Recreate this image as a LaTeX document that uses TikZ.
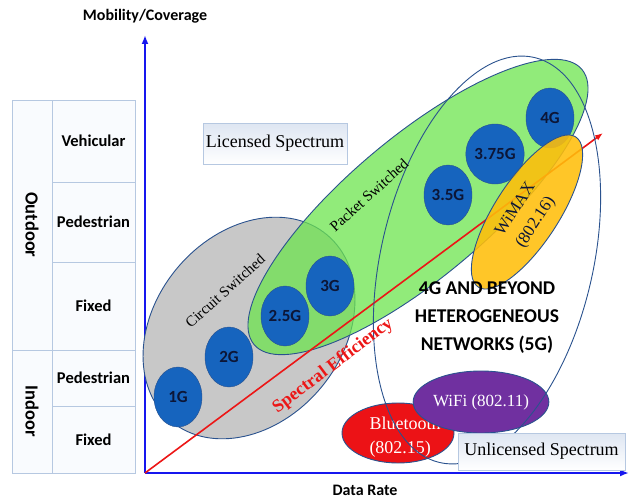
\documentclass[tikz,border=0pt]{standalone}
\usepackage{fontspec}
\setmainfont{Liberation Serif}
\setsansfont{Carlito}
\usepackage{xcolor}
\usepackage{tikz}
\usetikzlibrary{arrows.meta}
\usetikzlibrary{shapes.geometric}
\usetikzlibrary{positioning}

\definecolor{genblue}{RGB}{22,100,190}
\definecolor{gentext}{RGB}{12,22,55}
\definecolor{edgeblue}{RGB}{42,82,142}
\definecolor{csgray}{RGB}{200,200,200}
\definecolor{psgreen}{RGB}{108,228,78}
\definecolor{wmyellow}{RGB}{255,190,10}
\definecolor{btred}{RGB}{236,18,22}
\definecolor{wfpurple}{RGB}{112,48,160}
\definecolor{effred}{RGB}{236,22,22}
\definecolor{axisblue}{RGB}{22,22,238}
\definecolor{cellline}{RGB}{182,200,225}
\definecolor{cellfill}{RGB}{249,251,254}
\definecolor{bandtop}{RGB}{222,230,242}

\begin{document}
\begin{tikzpicture}[x=1pt, y=-1pt,
	cell/.style={draw=cellline, fill=cellfill, inner sep=0pt, minimum width=83pt, font=\sffamily\bfseries\fontsize{16.5}{18}\selectfont},
	gen/.style={ellipse, draw=edgeblue, fill=genblue, inner sep=0pt, minimum width=48pt, minimum height=60pt, text=gentext, font=\sffamily\bfseries\fontsize{17}{19}\selectfont},
	zone/.style={ellipse, draw=edgeblue, line width=0.9pt, inner sep=0pt},
	band/.style={draw=cellline, top color=bandtop, bottom color=white, inner sep=0pt, font=\fontsize{18}{20}\selectfont},
	axis/.style={draw=axisblue, line width=2pt, -{Latex[length=9pt, width=7pt]}},
	effarrow/.style={draw=effred, line width=1.6pt, -{Latex[length=8pt, width=6pt]}}]

	\useasboundingbox (0,0) rectangle (632,503);

	\node[cell, rotate=-90, minimum width=250pt, minimum height=40pt, font=\sffamily\bfseries\fontsize{18.5}{20}\selectfont] (outdoor) at (32,225) {Outdoor};
	\node[cell, rotate=-90, minimum width=123pt, minimum height=40pt, font=\sffamily\bfseries\fontsize{18.5}{20}\selectfont] (indoor) at (32,411.5) {Indoor};
	\foreach \y/\h/\txt [count=\iRow] in {141/82pt/Vehicular, 222/80pt/Pedestrian, 306/88pt/Fixed, 378/56pt/Pedestrian, 439.5/67pt/Fixed}
	{
		\node[cell, minimum height=\h] (row\iRow) at (93.5,\y) {\txt};
	}

	\coordinate (O) at (145,473);
	\coordinate (ytip) at (145,35);
	\coordinate (xtip) at (629,473);
	\coordinate (se) at (603,133);
	\draw[axis] (O) -- (ytip);
	\draw[axis] (O) -- (xtip);
	\node[font=\sffamily\bfseries\fontsize{16}{18}\selectfont] (mobility) at (145,16) {Mobility/Coverage};
	\node[font=\sffamily\bfseries\fontsize{16}{18}\selectfont] (rate) at (365,490) {Data Rate};

	\node[zone, fill=csgray, minimum width=243pt, minimum height=187pt, rotate=50] (circuit) at (249,328) {};
	\node[zone, fill=psgreen, fill opacity=0.75, minimum width=428pt, minimum height=140pt, rotate=40] (packet) at (418,207) {};
	\foreach \x/\y/\g [count=\iGen] in {178/397/1G, 229/357/2G, 285/316/2.5G, 330/286/3G, 448/195/3.5G, 495/154/3.75G, 550/118/4G}
	{
		\node[gen] (gen\iGen) at (\x,\y) {\g};
	}
	\draw[effarrow] (O) -- (se);
	\node[zone, fill=wmyellow, fill opacity=0.88, minimum width=179pt, minimum height=64pt, rotate=57] (wimax) at (527,212) {};

	\node[zone, fill=btred, minimum width=112pt, minimum height=60pt] (bt) at (398,433) {};
	\node[align=left, text=white, font=\fontsize{18}{24}\selectfont] (bttext) at (405,437) {Bluetooth\\(802.15)};
	\node[zone, fill=wfpurple, minimum width=114pt, minimum height=62pt, text=white, font=\fontsize{17}{20}\selectfont] (wifi) at (481,402) {WiFi (802.11)};
	\node[zone, minimum width=416pt, minimum height=212pt, rotate=76.8] (hetnet) at (487,260) {};

	\node[rotate=42, font=\fontsize{15}{17}\selectfont] (cstext) at (225,291) {Circuit Switched};
	\node[rotate=42, font=\fontsize{15}{17}\selectfont] (pstext) at (369,195) {Packet Switched};
	\node[rotate=37, text=effred, font=\bfseries\fontsize{18}{20}\selectfont] (efftext) at (333,366) {Spectral Efficiency};
	\node[rotate=57, align=center, text=gentext, font=\fontsize{17}{24}\selectfont] (wmtext) at (526,216) {WiMAX\\(802.16)};
	\node[align=center, font=\sffamily\bfseries\fontsize{19.5}{28}\selectfont] (beyond) at (487,318) {4G AND BEYOND\\HETEROGENEOUS\\NETWORKS (5G)};

	\node[band, minimum width=144pt, minimum height=41pt] (licensed) at (275,143.5) {Licensed Spectrum};
	\node[band, minimum width=167pt, minimum height=37pt] (unlicensed) at (541.5,451.5) {Unlicensed Spectrum};
\end{tikzpicture}
\end{document}
